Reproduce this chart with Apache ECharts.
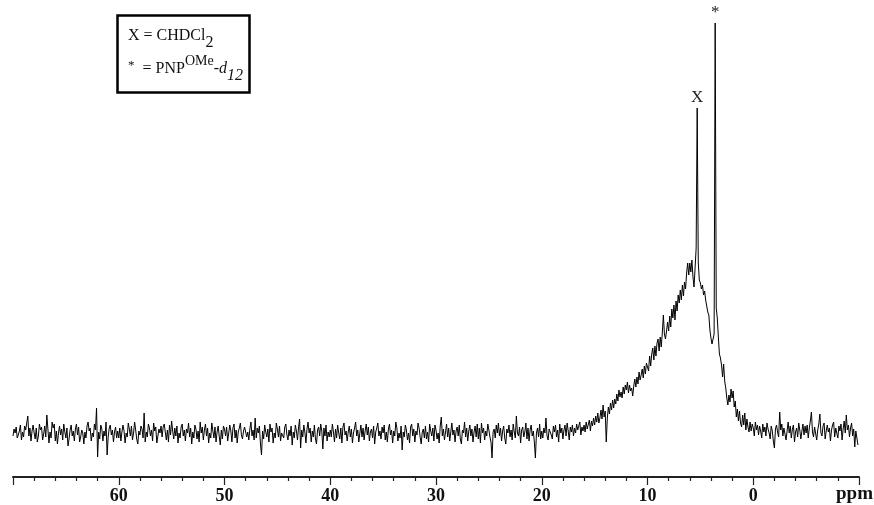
<!DOCTYPE html>
<html><head><meta charset="utf-8">
<style>html,body{margin:0;padding:0;background:#fff}#c{width:874px;height:505px}</style>
<script src="https://cdn.jsdelivr.net/npm/echarts@6/dist/echarts.min.js"></script>
</head><body><div id="c"></div>
<script>
// Spectrum sampled every 0.1 ppm, from 70.0 ppm down to -9.9 ppm
const PPM_START = 70.0, PPM_STEP = 0.1;
// 70.0 – 60.1 ppm
const segA = [-2,5,1,7,-4,-1,3,9,-6,2, -3,8,4,11,18,-2,6,-7,3,9, 1,-5,6,-8,-2,10,4,7,-6,0, 8,-3,19,5,-9,2,-4,12,6,10,
  -7,3,-10,1,8,-1,5,-6,10,2, -4,6,-12,-5,4,9,-2,3,-7,5, 10,-1,7,-8,-3,4,1,-10,2,-4, 8,12,3,6,-7,1,-3,10,4,26,
  -23,2,-5,9,5,-7,3,-2,12,-21, -3,6,9,-1,4,-8,2,7,-4,3];
// 60.0 – 50.1 ppm
const segB = [-4,6,-7,2,9,3,-9,1,-3,11, 5,-2,8,-6,1,12,4,-5,-10,3, -1,8,5,-4,21,-8,2,-3,10,6, -2,4,-7,11,3,7,-9,-2,5,1,
  8,-3,7,10,2,-6,4,-8,9,-1, 13,3,-5,6,-2,8,-9,1,-4,7, 10,-2,4,-7,5,1,11,-3,6,-10, 2,-4,9,5,-5,3,-8,12,1,7,
  -6,4,10,-2,6,-9,1,-4,11,3, -4,7,-8,2,8,-2,-11,4,-5,8];
// 50.0 – 40.1 ppm
const segC = [5,-2,7,-7,1,9,3,-8,6,10, -4,4,-9,2,6,11,-1,-5,3,7, 9,-3,2,-6,5,12,-2,4,-6,16, -4,6,1,8,-10,-21,3,-5,9,2,
  -3,5,-8,10,2,6,-9,1,-4,11, 5,-3,8,-7,1,3,-4,7,10,-1, -6,4,-2,8,-11,2,-4,9,3,-6, 6,15,-14,4,-3,9,2,-9,5,12,
  1,6,-8,3,-3,9,-5,-10,4,7, -2,10,3,-15,6,-2,9,-7,2,-3];
// 40.0 – 30.1 ppm
const segD = [4,-3,10,2,-8,5,-4,9,1,-5, 6,-9,7,11,-1,3,-7,2,8,-3, 5,-9,1,6,12,-2,4,-8,1,9, -3,6,-6,3,10,-1,7,-7,2,5,
  -4,8,-10,2,6,11,-2,3,-5,7, 1,9,-6,2,-8,5,10,-1,4,-9, 3,-2,12,6,-7,1,-4,8,-16,2, -3,9,4,-6,1,-9,7,10,-2,5,
  -8,3,-1,11,6,-3,-10,2,5,-4, 8,-5,2,-8,10,3,-2,6,-7,9];
// 30.0 – 20.1 ppm
const segE = [4,-5,1,-9,8,17,-2,5,-6,2, 10,-3,6,-7,2,11,-1,4,-8,3, 7,-2,9,-5,-10,4,1,12,-3,6, -7,3,9,-2,5,-8,2,8,-3,10,
  -5,6,-9,11,1,6,-6,3,-2,10, 4,-3,-8,-24,2,5,-4,9,1,11, -2,6,-7,3,8,-4,-10,5,1,9, -3,4,-6,10,2,-4,18,1,-2,7,
  -9,4,7,-3,2,11,-5,6,-7,4, 9,-2,3,-8,-24,1,6,-3,10,-5];
// 20.0 – 10.1 ppm (rise of the broad signal)
const segF = [3,-4,6,1,16,-2,-6,5,7,-1, -5,8,2,9,-3,4,-8,10,1,6, -5,4,9,-2,11,3,-6,7,2,9, -2,6,1,10,4,8,12,-1,7,3,
  9,2,12,5,7,14,3,13,8,16, 9,18,12,21,11,16,24,15,29,17, 23,-8,16,27,20,31,24,34,26,35, 30,40,33,44,37,42,36,47,40,49,
  44,52,41,49,43,46,38,48,55,47, 57,50,62,54,59,65,56,68,60,71];
// 10.0 – 0.1 ppm (broad signal, CHDCl2 and PNP peaks)
const segG = [72,63,78,68,80,86,74,88,78,91, 95,83,97,87,101,119,100,95,103,112, 103,118,107,125,116,129,114,133,123,139,
  131,144,134,149,138,152,145,161,171,159, 171,162,174,157,147,166,186,326,172,154, 151,145,149,139,143,134,136,122,119,104,
  96,90,89,100,411,126,116,97,80,76, 69,57,70,53,46,36,29,39,32,45, 36,43,27,33,17,25,13,23,11,7, 19,9,21,4,15,7,2,12,3,10];
// 0.0 – -9.9 ppm
const segH = [6,-2,12,4,9,-1,8,3,-4,10, 2,7,-2,11,5,1,-5,8,3,-7, -14,5,9,2,-3,22,4,10,-2,6, 7,-6,3,12,1,8,-4,5,9,-8,
  2,6,-3,11,4,-5,3,10,-1,8, 1,9,-4,6,13,22,2,-3,7,8, -6,4,10,20,1,-2,8,11,-5,3, 9,2,6,-7,4,9,12,-3,6,1,
  -4,8,3,10,-6,5,13,1,19,4, 9,-3,6,11,-2,5,-13,3,-4,-11];

const axisTicks = [60, 50, 40, 30, 20, 10, 0];
const peakLabels = [{label: 'X', ppm: 5.3}, {label: '*', ppm: 3.6}];

const intensity = [].concat(segA, segB, segC, segD, segE, segF, segG, segH);
const data = intensity.map((v, i) => [+(PPM_START - i * PPM_STEP).toFixed(1), v]);

const SERIF = '"Liberation Serif", "Times New Roman", serif';
const mctx = document.createElement('canvas').getContext('2d');
function fontStr(size, style, weight) { return (style || 'normal') + ' ' + (weight || 'normal') + ' ' + size + 'px "Liberation Serif"'; }
function runText(x0, items) {
  let x = x0; const out = [];
  items.forEach(it => {
    const f = fontStr(it.size, it.style, it.weight);
    mctx.font = f;
    const w = mctx.measureText(it.t).width;
    if (it.x != null) x = it.x;
    out.push({type: 'text', x: x, y: it.base - 0.34 * it.size, z: 12,
      style: {text: it.t, font: f, fill: '#111', textAlign: 'left', textVerticalAlign: 'middle'}});
    x += w;
  });
  return out;
}

const legendTexts = [].concat(
  runText(128, [{t: 'X = CHDCl', size: 16, base: 41}, {t: '2', size: 16, base: 48}]),
  runText(128, [{t: '*', size: 13, base: 70}, {t: '  = PNP', size: 16, base: 74},
    {t: 'OMe', size: 14, base: 66}, {t: '-', size: 16, base: 74}, {t: 'd', size: 16, style: 'italic', base: 74},
    {t: '12', size: 16, style: 'italic', base: 81}])
);

const chart = echarts.init(document.getElementById('c'), null, {renderer: 'canvas'});
chart.setOption({
  animation: false,
  backgroundColor: '#fff',
  grid: {left: 13, right: 15, top: 10, bottom: 28, containLabel: false, outerBoundsMode: 'none'},
  xAxis: {
    type: 'value', inverse: true, min: -10, max: 70, interval: 10,
    axisLine: {show: true, onZero: false, lineStyle: {color: '#222', width: 2}},
    axisTick: {show: true, length: 8, lineStyle: {color: '#222', width: 1.2}},
    minorTick: {show: true, splitNumber: 5, length: 4, lineStyle: {color: '#222', width: 1.2}},
    splitLine: {show: false},
    axisLabel: {
      margin: 10, color: '#111', fontFamily: SERIF, fontWeight: 'bold', fontSize: 18,
      formatter: v => axisTicks.indexOf(v) >= 0 ? String(v) : ''
    }
  },
  yAxis: {type: 'value', min: -43, max: 424, show: false},
  series: [{
    type: 'line', data: data, showSymbol: false, symbol: 'none', sampling: 'none',
    lineStyle: {color: '#000', width: 1}, silent: true,
    markPoint: {
      symbol: 'circle', symbolSize: 1, itemStyle: {color: 'rgba(0,0,0,0)'},
      data: peakLabels.map(p => {
        const pt = data.find(d => Math.abs(d[0] - p.ppm) < 1e-6);
        return {name: p.label, coord: [pt[0], pt[1]]};
      }),
      label: {
        show: true, position: 'top', distance: 1, color: '#222', fontFamily: SERIF,
        fontSize: 17, formatter: prm => prm.name
      }
    }
  }],
  graphic: [
    {type: 'rect', z: 11, shape: {x: 117.5, y: 15.5, width: 132, height: 77},
      style: {fill: '#fff', stroke: '#000', lineWidth: 2.5}},
    ...legendTexts,
    {type: 'text', x: 873, y: 501 - 0.34 * 19, z: 12,
      style: {text: 'ppm', font: fontStr(19, 'normal', 'bold'), fill: '#111', textAlign: 'right', textVerticalAlign: 'middle'}}
  ]
});
</script></body></html>
